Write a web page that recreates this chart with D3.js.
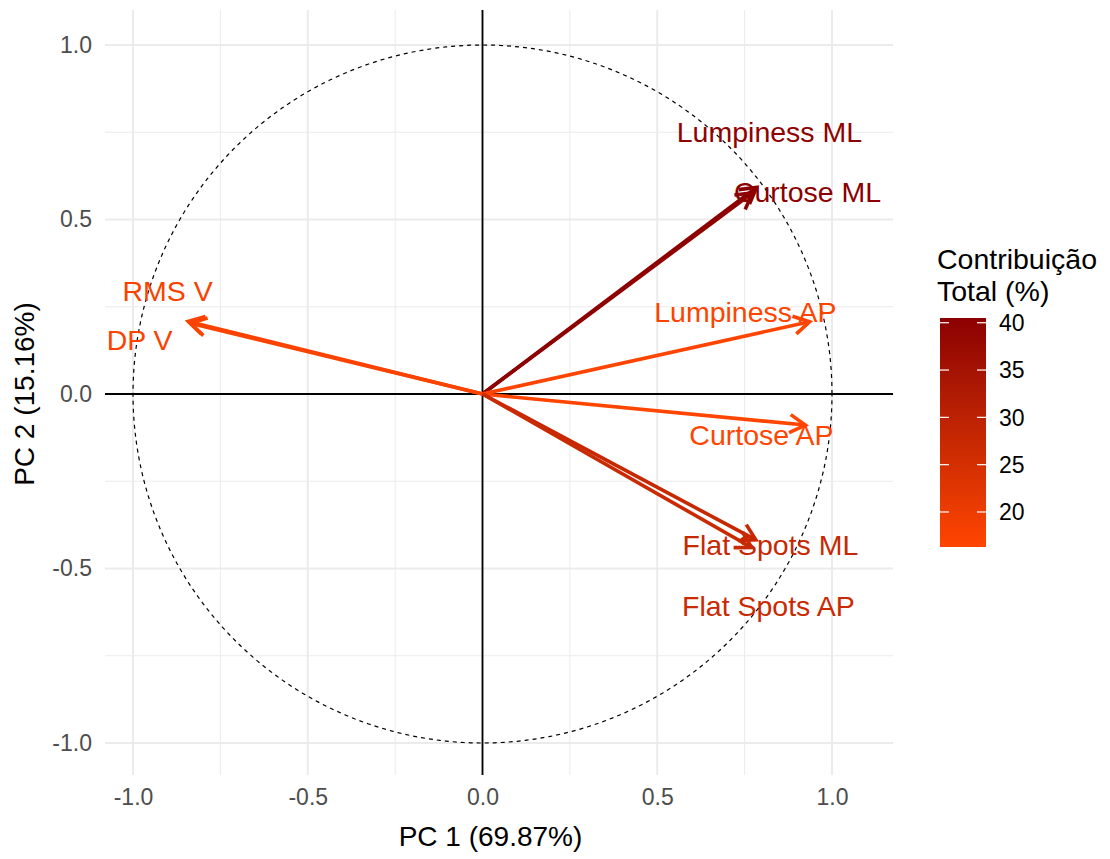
<!DOCTYPE html>
<html>
<head>
<meta charset="utf-8">
<script src="https://cdn.jsdelivr.net/npm/d3@7"></script>
<style>
  html, body { margin: 0; padding: 0; background: #ffffff; }
  svg { display: block; font-family: "Liberation Sans", Arial, sans-serif; }
</style>
</head>
<body>
<svg id="chart" width="1110" height="859"></svg>
<script>
// ---- data ----
const variables = ["Curtose ML", "Lumpiness ML", "RMS V", "DP V", "Lumpiness AP", "Curtose AP", "Flat Spots ML", "Flat Spots AP"];
const pc1 = [0.784, 0.772, -0.842, -0.836, 0.936, 0.924, 0.782, 0.770];
const pc2 = [0.592, 0.576, 0.208, 0.203, 0.207, -0.089, -0.418, -0.440];
const contrib = [40.5, 39.8, 17.4, 17.1, 16.6, 16.3, 27.8, 27.0];
const labelX = [0.930, 0.821, -0.901, -0.981, 0.752, 0.798, 0.824, 0.818];
const labelY = [0.579, 0.751, 0.295, 0.155, 0.235, -0.117, -0.433, -0.607];
const xTicks = [-1.0, -0.5, 0.0, 0.5, 1.0];
const yTicks = [-1.0, -0.5, 0.0, 0.5, 1.0];
const minorTicks = [-0.75, -0.25, 0.25, 0.75];
const legendTicks = [20, 25, 30, 35, 40];
const xTitle = "PC 1 (69.87%)";
const yTitle = "PC 2 (15.16%)";
const legendTitle = ["Contribuição", "Total (%)"];

// ---- layout ----
const svg = d3.select("#chart");
const panel = { left: 105, right: 893, top: 10, bottom: 775 };
const x = d3.scaleLinear().domain([-1, 1]).range([133, 832]);
const y = d3.scaleLinear().domain([-1, 1]).range([743, 45]);
const cmin = d3.min(contrib), cmax = d3.max(contrib);
const color = d3.scaleLinear().domain([cmin, cmax]).range(["#FF4500", "#8B0000"]).interpolate(d3.interpolateLab);
const fmt = d => d.toFixed(1);

// grid
const g = svg.append("g");
g.selectAll(".vminor").data(minorTicks).join("line")
  .attr("x1", d => x(d)).attr("x2", d => x(d)).attr("y1", panel.top).attr("y2", panel.bottom)
  .attr("stroke", "#ebebeb").attr("stroke-width", 1);
g.selectAll(".hminor").data(minorTicks).join("line")
  .attr("y1", d => y(d)).attr("y2", d => y(d)).attr("x1", panel.left).attr("x2", panel.right)
  .attr("stroke", "#ebebeb").attr("stroke-width", 1);
g.selectAll(".vmajor").data(xTicks).join("line")
  .attr("x1", d => x(d)).attr("x2", d => x(d)).attr("y1", panel.top).attr("y2", panel.bottom)
  .attr("stroke", "#ebebeb").attr("stroke-width", 2);
g.selectAll(".hmajor").data(yTicks).join("line")
  .attr("y1", d => y(d)).attr("y2", d => y(d)).attr("x1", panel.left).attr("x2", panel.right)
  .attr("stroke", "#ebebeb").attr("stroke-width", 2);

// zero lines
svg.append("line").attr("x1", x(0)).attr("x2", x(0)).attr("y1", panel.top).attr("y2", panel.bottom)
  .attr("stroke", "#000").attr("stroke-width", 1.8);
svg.append("line").attr("y1", y(0)).attr("y2", y(0)).attr("x1", panel.left).attr("x2", panel.right)
  .attr("stroke", "#000").attr("stroke-width", 1.8);

// circle
const circ = d3.range(0, 361, 1).map(a => [Math.cos(a * Math.PI / 180), Math.sin(a * Math.PI / 180)]);
svg.append("path").datum(circ)
  .attr("d", d3.line().x(d => x(d[0])).y(d => y(d[1])))
  .attr("fill", "none").attr("stroke", "#000").attr("stroke-width", 1.2).attr("stroke-dasharray", "4,4");

// tick labels
const axisX = d3.axisBottom(x).tickValues(xTicks).tickFormat(fmt).tickSize(0).tickPadding(0);
const ax = svg.append("g").attr("transform", `translate(0,${panel.bottom + 14})`).call(axisX);
ax.select(".domain").remove();
ax.selectAll("text").attr("font-size", 23).attr("fill", "#4d4d4d").attr("dy", "0.71em")
  .attr("font-family", "Liberation Sans, Arial, sans-serif");
const axisY = d3.axisLeft(y).tickValues(yTicks).tickFormat(fmt).tickSize(0).tickPadding(0);
const ay = svg.append("g").attr("transform", `translate(${panel.left - 13},0)`).call(axisY);
ay.select(".domain").remove();
ay.selectAll("text").attr("font-size", 23).attr("fill", "#4d4d4d")
  .attr("font-family", "Liberation Sans, Arial, sans-serif");

// axis titles
svg.append("text").attr("x", x(0) + 8).attr("y", 846).attr("text-anchor", "middle")
  .attr("font-size", 28).attr("fill", "#000").text(xTitle);
svg.append("text").attr("transform", `translate(34,${y(0)}) rotate(-90)`).attr("text-anchor", "middle")
  .attr("font-size", 28).attr("fill", "#000").text(yTitle);

// arrows
const idx = d3.range(variables.length);
const arrows = svg.append("g");
idx.forEach(i => {
  const x0 = x(0), y0 = y(0), x1 = x(pc1[i]), y1 = y(pc2[i]);
  const c = color(contrib[i]);
  arrows.append("line").attr("x1", x0).attr("y1", y0).attr("x2", x1).attr("y2", y1)
    .attr("stroke", c).attr("stroke-width", 3.6);
  const ang = Math.atan2(y1 - y0, x1 - x0);
  const L = 18, a = Math.PI / 6;
  const p1 = [x1 - L * Math.cos(ang - a), y1 - L * Math.sin(ang - a)];
  const p2 = [x1 - L * Math.cos(ang + a), y1 - L * Math.sin(ang + a)];
  arrows.append("path").attr("d", `M${p1[0]},${p1[1]}L${x1},${y1}L${p2[0]},${p2[1]}`)
    .attr("fill", "none").attr("stroke", c).attr("stroke-width", 3.6)
    .attr("stroke-linejoin", "miter").attr("stroke-linecap", "butt");
});

// labels
svg.append("g").selectAll("text").data(idx).join("text")
  .attr("x", i => x(labelX[i])).attr("y", i => y(labelY[i])).attr("dy", "0.36em")
  .attr("text-anchor", "middle").attr("font-size", 28.5)
  .attr("fill", i => color(contrib[i])).text(i => variables[i]);

// legend
const lg = svg.append("g");
lg.selectAll(".lt").data(legendTitle).join("text")
  .attr("x", 937).attr("y", (d, i) => 269 + i * 32)
  .attr("font-size", 28.5).attr("fill", "#000").text(d => d);
const barX = 940, barW = 46, barTop = 318, barBot = 547;
const ly = d3.scaleLinear().domain([cmin, cmax]).range([barBot, barTop]);
const defs = svg.append("defs");
const grad = defs.append("linearGradient").attr("id", "cgrad")
  .attr("x1", 0).attr("x2", 0).attr("y1", 1).attr("y2", 0);
d3.range(0, 1.0001, 0.1).forEach(t => {
  grad.append("stop").attr("offset", t).attr("stop-color", color(cmin + t * (cmax - cmin)));
});
lg.append("rect").attr("x", barX).attr("y", barTop).attr("width", barW).attr("height", barBot - barTop)
  .attr("fill", "url(#cgrad)");
legendTicks.forEach(v => {
  lg.append("line").attr("x1", barX).attr("x2", barX + 9).attr("y1", ly(v)).attr("y2", ly(v))
    .attr("stroke", "#fff").attr("stroke-width", 1.2);
  lg.append("line").attr("x1", barX + barW - 9).attr("x2", barX + barW).attr("y1", ly(v)).attr("y2", ly(v))
    .attr("stroke", "#fff").attr("stroke-width", 1.2);
  lg.append("text").attr("x", 999).attr("y", ly(v)).attr("dy", "0.36em")
    .attr("font-size", 23).attr("fill", "#000").text(v);
});
</script>
</body>
</html>
